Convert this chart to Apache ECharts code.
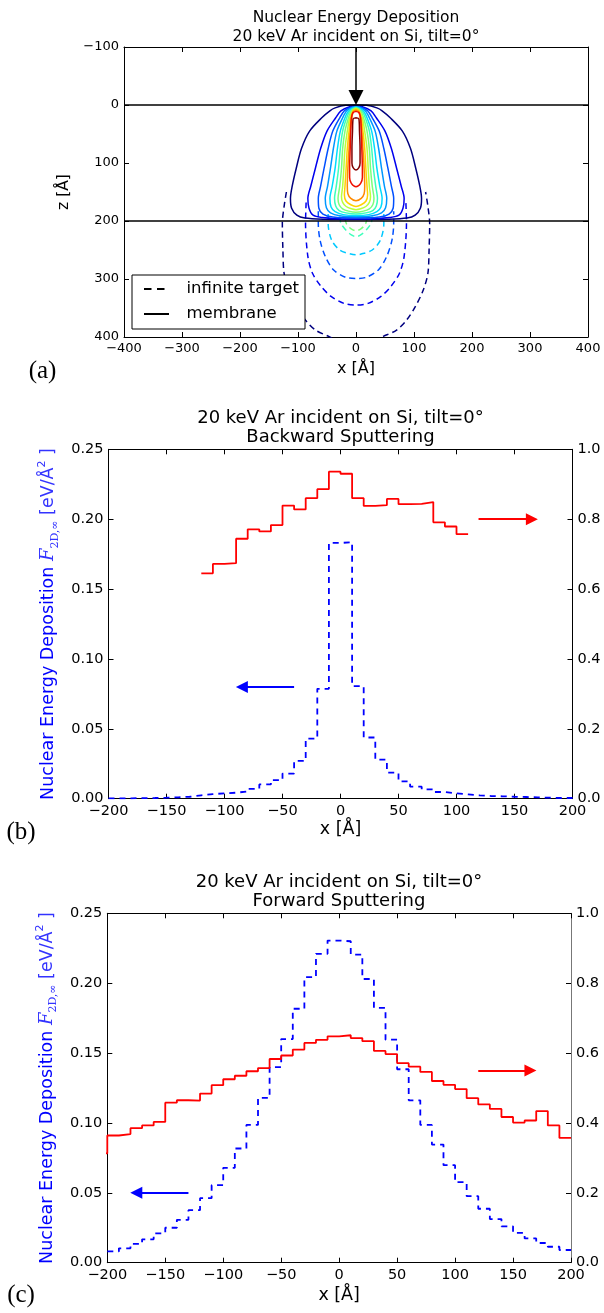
<!DOCTYPE html>
<html>
<head>
<meta charset="utf-8">
<script src="https://cdn.jsdelivr.net/npm/echarts@6/dist/echarts.min.js"></script>
<style>html,body{margin:0;padding:0;background:#fff}#main{width:604px;height:1313px}</style>
</head>
<body>
<div id="main"></div>
<script>
// panel (a): contour half widths, [z, half width] in Å
var memNavy   = [[0,0],[0.5,18],[5,36],[10,45],[22,59],[45,80],[75,94],[109,103],[140,110],[161,113],[178,111],[190,102],[195,88],[197,53],[197.5,0]];
var memBlue   = [[1.5,0],[3,11],[10,26],[22,35],[45,50],[75,61],[109,70],[140,78],[161,83],[178,81],[190,74],[194,58],[196,30],[196.5,0]];
var memAzure  = [[2.5,0],[4,9],[10,20],[22,28],[45,40],[75,48],[109,55],[140,61],[161,65],[178,64],[188,57],[193,40],[194.5,0]];
var memDodger = [[3,0],[5,8],[10,16],[22,23],[45,33],[75,39],[109,44],[140,49],[161,53],[177,51],[186,44],[191,28],[192.5,0]];
var memCyan   = [[3.5,0],[6,7],[12,14],[22,19],[45,27],[75,32],[109,36],[140,41],[161,45],[176,43],[184,36],[189,22],[190.5,0]];
var memAqua   = [[4,0],[7,6],[13,12],[22,16],[45,23],[75,27],[109,30],[140,34],[161,37],[174,35],[182,29],[186,17],[188,0]];
var memGreen  = [[5,0],[8,6],[14,10],[22,13],[45,19],[75,23],[109,25],[140,28],[161,31],[172,29],[179,23],[183,13],[185,0]];
var memLime   = [[6,0],[9,5],[15,8],[22,11],[45,15],[75,19],[109,21],[140,23],[158,25],[168,23],[175,17],[179,8],[180.5,0]];
var memYellow = [[7,0],[10,5],[22,9],[45,12],[75,15],[109,17],[140,19],[155,20],[166,17],[172,9],[175,0]];
var memOrange = [[9,0],[12,5],[22,7],[45,10],[75,12],[109,14],[140,15],[153,14],[161,9],[165,0]];
var memRed    = [[11,0],[13,5],[22,8],[45,9],[75,10],[109,11],[125,11],[135,8],[141,0]];
var memDark   = [[22,0],[24,5],[45,6],[75,7],[100,7],[108,5],[112,0]];

var infNavy   = [[150,120],[175,124],[204,127],[250,126],[290,124],[319,116],[348,102],[371,87],[388,70],[399,47],[410,24],[414,0]];
var infBlue   = [[168,86],[204,87],[261,83],[290,75],[313,60],[330,43],[342,21],[345,0]];
var infAzure  = [[183,65],[204,65],[233,62],[261,53],[284,39],[297,18],[299,0]];
var infCyan   = [[188,48],[204,48],[233,42],[250,28],[257,9],[258,0]];
var infAqua   = [[192,28],[204,26],[215,18],[224,8],[227,0]];
var infGreen  = [[196,19],[206,16],[213,9],[217,0]];

var memColors = ['#00007f','#0000ee','#0050ff','#0098ff','#00dcfe','#3dffba','#7bff7b','#baff3d','#ffd200','#ff8a00','#ee1000','#800000'];
var infColors = ['#00007f','#0000ee','#0050ff','#00c8ff','#3dffba','#7bff7b'];

var surfaceLines = [0, 200];
var beamArrow = [[0, -100], [0, -13]];

// panels (b) and (c): 10 Å bins
var binEdges = [-200,-190,-180,-170,-160,-150,-140,-130,-120,-110,-100,-90,-80,-70,-60,-50,-40,-30,-20,-10,
                0,10,20,30,40,50,60,70,80,90,100,110,120,130,140,150,160,170,180,190,200];

var backBlue = [0.0003,0.0003,0.0004,0.0005,0.0007,0.001,0.0014,0.0024,0.0033,0.0038,0.0043,0.0052,0.007,0.0102,0.0133,0.018,0.027,0.043,0.0786,0.183,
                0.1835,0.0805,0.0438,0.028,0.0186,0.0124,0.0086,0.0067,0.0048,0.0038,0.0031,0.0024,0.0019,0.0017,0.0014,0.0012,0.001,0.0007,0.0005,0.0005];
var backRedStart = -120;
var backRed = [0.645,0.672,0.674,0.744,0.771,0.765,0.783,0.839,0.828,0.860,0.886,0.936,0.930,0.860,0.838,0.840,0.858,0.843,0.844,0.849,0.791,0.779,0.757];

var fwdBlue = [0.0081,0.0103,0.0134,0.0167,0.021,0.025,0.0307,0.0376,0.0462,0.0555,0.0679,0.0817,0.0986,0.1179,0.14,0.16,0.1817,0.2043,0.221,0.2305,
               0.23,0.2205,0.203,0.1824,0.1596,0.1384,0.1162,0.0986,0.0845,0.0698,0.0576,0.0476,0.0386,0.0312,0.026,0.0214,0.0174,0.0141,0.0114,0.0091];
var fwdRedStart = -210;
var fwdRed = [0.313,0.364,0.368,0.385,0.393,0.403,0.458,0.465,0.464,0.484,0.508,0.525,0.535,0.548,0.557,0.583,0.593,0.61,0.629,0.638,0.648,
              0.651,0.643,0.634,0.606,0.597,0.571,0.561,0.546,0.52,0.509,0.497,0.471,0.453,0.44,0.417,0.401,0.407,0.434,0.393,0.357];

var arrowsB = {red: [[119, 0.8], [165, 0.8]], blue: [[-40, 0.08], [-85, 0.08]]};
var arrowsC = {red: [[120, 0.55], [165, 0.55]], blue: [[-130, 0.05], [-175, 0.05]]};

var FONT = 'DejaVu Sans';

function minus(v) {
    return v < 0 ? '\u2212' + Math.abs(v) : String(v);
}

// contour from a half profile, mirrored about x = 0
function mirrorContour(prof) {
    var left = prof.map(function (p) { return [-p[1], p[0]]; });
    var right = prof.slice(0, prof.length - 1).reverse().map(function (p) { return [p[1], p[0]]; });
    return left.concat(right);
}

function steps(start, values) {
    var pts = values.map(function (v, i) { return [start + i * 10, v]; });
    pts.push([start + values.length * 10, values[values.length - 1]]);
    return pts;
}

function arrowLine(pts, color) {
    return {
        silent: true,
        symbol: ['none', 'triangle'],
        symbolSize: 12,
        label: {show: false},
        lineStyle: {color: color, width: 2, type: 'solid'},
        data: [[{coord: pts[0]}, {coord: pts[1]}]]
    };
}

var tickStyle = {inside: true, length: 5, lineStyle: {color: '#000', width: 1}};

function xAx(grid, min, max, step, fs, name, gap) {
    return {
        gridIndex: grid, type: 'value', min: min, max: max, interval: step, position: 'bottom',
        axisLine: {onZero: false, lineStyle: {color: '#000', width: 1}},
        axisTick: tickStyle,
        axisLabel: {color: '#000', fontSize: fs, fontFamily: FONT, margin: 5, formatter: minus},
        splitLine: {show: false},
        name: name, nameLocation: 'middle', nameGap: gap,
        nameTextStyle: {color: '#000', fontSize: fs + 3, fontFamily: FONT}
    };
}
function xTop(grid, min, max, step) {
    return {
        gridIndex: grid, type: 'value', min: min, max: max, interval: step, position: 'top',
        axisLine: {onZero: false, lineStyle: {color: '#000', width: 1}},
        axisTick: tickStyle, axisLabel: {show: false}, splitLine: {show: false}
    };
}
function yAx(grid, min, max, step, pos, fmt, fs, lineColor) {
    return {
        gridIndex: grid, type: 'value', min: min, max: max, interval: step, position: pos,
        axisLine: {show: true, onZero: false, lineStyle: {color: lineColor || '#000', width: 1}},
        axisTick: {show: true, inside: true, length: 5, lineStyle: {color: '#000', width: 1}},
        axisLabel: {show: !!fmt, color: '#000', fontSize: fs, fontFamily: FONT, margin: 5, formatter: fmt},
        splitLine: {show: false}
    };
}

var energyName = {
    name: '{n|Nuclear Energy Deposition }{f|F}{s|2D,\u221e}{m| [eV/\u00c5}{p|2}{m| ]}',
    nameLocation: 'middle', nameRotate: 90, nameGap: 41,
    nameTextStyle: {
        rich: {
            n: {color: '#0000ff', fontSize: 17.5, fontFamily: FONT, lineHeight: 24},
            m: {color: '#3333ff', fontSize: 17.5, fontFamily: FONT, lineHeight: 24},
            f: {color: '#3333ff', fontSize: 18, fontFamily: 'DejaVu Serif', fontStyle: 'italic', lineHeight: 24},
            s: {color: '#3333ff', fontSize: 11, fontFamily: 'DejaVu Serif', verticalAlign: 'bottom', lineHeight: 12},
            p: {color: '#3333ff', fontSize: 11, fontFamily: FONT, verticalAlign: 'top', lineHeight: 12}
        }
    }
};

var yAxes = [
    Object.assign(yAx(0, -100, 400, 100, 'left', minus, 13), {
        inverse: true, name: 'z [\u00c5]', nameLocation: 'middle', nameRotate: 90, nameGap: 44,
        nameTextStyle: {color: '#000', fontSize: 15.5, fontFamily: FONT}
    }),
    Object.assign(yAx(0, -100, 400, 100, 'right', null, 13), {inverse: true}),
    Object.assign(yAx(1, 0, 0.25, 0.05, 'left', function (v) { return v.toFixed(2); }, 14.5), energyName),
    yAx(1, 0, 1, 0.2, 'right', function (v) { return v.toFixed(1); }, 14.5),
    Object.assign(yAx(2, 0, 0.25, 0.05, 'left', function (v) { return v.toFixed(2); }, 14.5), energyName),
    yAx(2, 0, 1, 0.2, 'right', function (v) { return v.toFixed(1); }, 14.5, '#777')
];

var series = [];

var infProfiles = [infNavy, infBlue, infAzure, infCyan, infAqua, infGreen];
infProfiles.forEach(function (p, i) {
    series.push({
        type: 'line', xAxisIndex: 0, yAxisIndex: 0, silent: true, symbol: 'none', smooth: 0.3, z: 2,
        lineStyle: {color: infColors[i], width: 1.5, type: [6, 4]},
        data: mirrorContour(p)
    });
});

var memProfiles = [memNavy, memBlue, memAzure, memDodger, memCyan, memAqua, memGreen, memLime, memYellow, memOrange, memRed, memDark];
memProfiles.forEach(function (p, i) {
    series.push({
        type: 'line', xAxisIndex: 0, yAxisIndex: 0, silent: true, symbol: 'none', smooth: 0.3, z: 3,
        lineStyle: {color: memColors[i], width: 1.5},
        data: mirrorContour(p)
    });
});

// legend entries, surface lines and beam arrow
series.push({
    name: 'infinite target', type: 'line', xAxisIndex: 0, yAxisIndex: 0, symbol: 'none', data: [],
    lineStyle: {color: '#000', width: 1.5, type: [7.5, 5.5]}, itemStyle: {color: '#000', opacity: 0}
});
series.push({
    name: 'membrane', type: 'line', xAxisIndex: 0, yAxisIndex: 0, symbol: 'none', data: [], z: 4,
    lineStyle: {color: '#000', width: 1.5}, itemStyle: {color: '#000', opacity: 0},
    markLine: {
        silent: true, symbol: 'none', label: {show: false},
        lineStyle: {color: '#000', width: 1.5, type: 'solid', opacity: 1},
        data: surfaceLines.map(function (z) { return {yAxis: z}; })
    }
});
series.push({
    type: 'line', xAxisIndex: 0, yAxisIndex: 0, symbol: 'none', data: [], z: 5,
    markLine: {
        silent: true, symbol: ['none', 'triangle'], symbolSize: 15, label: {show: false},
        lineStyle: {color: '#000', width: 1.5, type: 'solid'},
        itemStyle: {color: '#000'},
        data: [[{coord: beamArrow[0]}, {coord: beamArrow[1]}]]
    }
});

// backward sputtering
series.push({
    type: 'line', xAxisIndex: 2, yAxisIndex: 2, step: 'end', symbol: 'none', silent: true,
    lineStyle: {color: '#0000ff', width: 1.8, type: [6, 5]},
    data: steps(binEdges[0], backBlue),
    markLine: arrowLine(arrowsB.blue, '#0000ff')
});
series.push({
    type: 'line', xAxisIndex: 2, yAxisIndex: 3, step: 'end', symbol: 'none', silent: true,
    lineStyle: {color: '#ff0000', width: 1.8},
    data: steps(backRedStart, backRed),
    markLine: arrowLine(arrowsB.red, '#ff0000')
});

// forward sputtering
series.push({
    type: 'line', xAxisIndex: 4, yAxisIndex: 4, step: 'end', symbol: 'none', silent: true,
    lineStyle: {color: '#0000ff', width: 1.8, type: [6, 5]},
    data: steps(binEdges[0], fwdBlue),
    markLine: arrowLine(arrowsC.blue, '#0000ff')
});
series.push({
    type: 'line', xAxisIndex: 4, yAxisIndex: 5, step: 'end', symbol: 'none', silent: true,
    lineStyle: {color: '#ff0000', width: 1.8},
    data: steps(fwdRedStart, fwdRed),
    markLine: arrowLine(arrowsC.red, '#ff0000')
});

function label(text, x, y, size, family) {
    return {
        type: 'text', x: x, y: y, silent: true,
        style: {text: text, fill: '#000', fontSize: size, fontFamily: family || FONT, align: 'center', verticalAlign: 'middle'}
    };
}

var myChart = echarts.init(document.getElementById('main'), null, {renderer: 'canvas'});

var option = {
    animation: false,
    backgroundColor: '#fff',
    grid: [
        {left: 124, top: 47, width: 464, height: 290},
        {left: 108.5, top: 449.3, width: 464, height: 349.4},
        {left: 107.3, top: 913.3, width: 463.7, height: 349.4}
    ],
    xAxis: [
        xAx(0, -400, 400, 100, 13, 'x [\u00c5]', 24),
        xTop(0, -400, 400, 100),
        xAx(1, -200, 200, 50, 14.5, 'x [\u00c5]', 22),
        xTop(1, -200, 200, 50),
        xAx(2, -200, 200, 50, 14.5, 'x [\u00c5]', 24),
        xTop(2, -200, 200, 50)
    ],
    yAxis: yAxes,
    legend: {
        data: ['infinite target', 'membrane'],
        orient: 'vertical', left: 132, top: 275,
        padding: [5, 6, 6, 11], itemGap: 7, itemWidth: 25, itemHeight: 14,
        backgroundColor: '#fff', borderColor: '#000', borderWidth: 1, borderRadius: 0,
        selectedMode: false, z: 10,
        itemStyle: {opacity: 0},
        textStyle: {color: '#000', fontSize: 16.5, fontFamily: FONT, lineHeight: 18, padding: [0, 0, 0, 12.5]}
    },
    graphic: [
        label('Nuclear Energy Deposition', 356, 17.5, 15.5),
        label('20 keV Ar incident on Si, tilt=0\u00b0', 356, 36.5, 15.5),
        label('20 keV Ar incident on Si, tilt=0\u00b0', 340.5, 418, 18),
        label('Backward Sputtering', 340.5, 437.5, 18),
        label('20 keV Ar incident on Si, tilt=0\u00b0', 339, 882, 18),
        label('Forward Sputtering', 339, 901.5, 18),
        label('(a)', 42.5, 371, 25, 'Liberation Serif'),
        label('(b)', 21, 832, 25, 'Liberation Serif'),
        label('(c)', 21, 1295, 25, 'Liberation Serif')
    ],
    series: series
};

myChart.setOption(option);
</script>
</body>
</html>
